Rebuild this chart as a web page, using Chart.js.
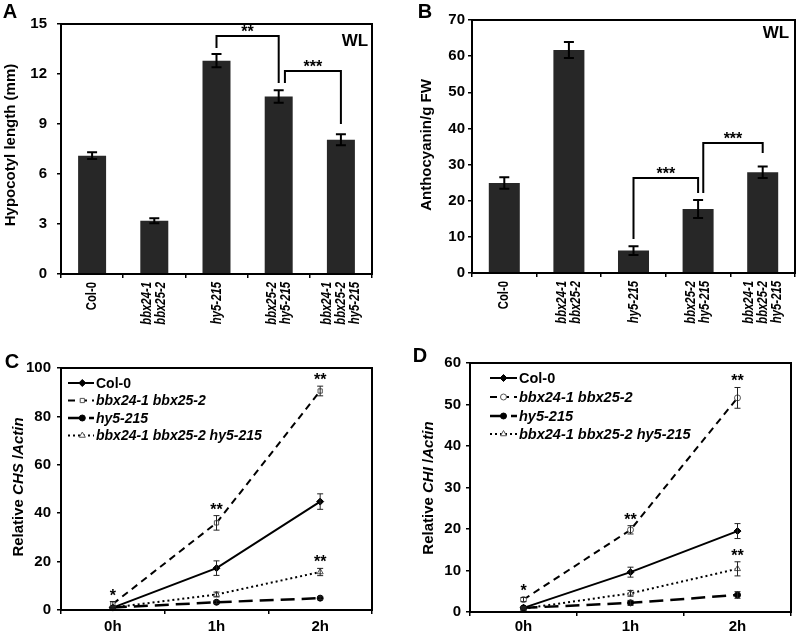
<!DOCTYPE html>
<html><head><meta charset="utf-8">
<script src="https://cdn.jsdelivr.net/npm/chart.js@4/dist/chart.umd.min.js"></script>
<style>
html,body{margin:0;padding:0;background:#fff;}
#wrap{position:relative;width:797px;height:635px;background:#fff;overflow:hidden;}
canvas{position:absolute;}
</style></head><body>
<div id="wrap">
<canvas id="cA" width="400" height="330" style="left:0px;top:0px;width:400px;height:330px"></canvas>
<canvas id="cB" width="397" height="330" style="left:400px;top:0px;width:397px;height:330px"></canvas>
<canvas id="cC" width="400" height="305" style="left:0px;top:330px;width:400px;height:305px"></canvas>
<canvas id="cD" width="397" height="305" style="left:400px;top:330px;width:397px;height:305px"></canvas>
</div>
<script>
// ---------------- DATA ----------------
const genotypes = [['Col-0'], ['bbx24-1', 'bbx25-2'], ['hy5-215'], ['bbx25-2', 'hy5-215'], ['bbx24-1', 'bbx25-2', 'hy5-215']];
const hypocotylLength = [7.1, 3.2, 12.8, 10.65, 8.05];
const hypocotylError  = [0.2, 0.15, 0.4, 0.37, 0.33];
const anthocyanin      = [24.9, 61.7, 6.2, 17.7, 27.9];
const anthocyaninError = [1.6, 2.2, 1.2, 2.5, 1.6];
// brackets: [fromCategory, toCategory, topValue, leftFootValue, rightFootValue, label]
const hypocotylBrackets   = [[2, 3, 14.28, 13.56, 11.46, '**'], [3.1, 4, 12.18, 11.46, 9.0, '***']];
const anthocyaninBrackets = [[2, 3, 26.3, 9.4, 22.1, '***'], [3.08, 4, 36.0, 22.1, 33.2, '***']];

const timePoints = ['0h', '1h', '2h'];
const seriesNames = ['Col-0', 'bbx24-1 bbx25-2', 'hy5-215', 'bbx24-1 bbx25-2 hy5-215'];
const chsCol0   = [1.0, 17.3, 44.8];  const chsCol0Err   = [0.5, 3.0, 3.2];
const chsDouble = [2.5, 36.0, 90.5];  const chsDoubleErr = [1.0, 3.0, 2.0];
const chsHy5    = [1.0, 3.2, 4.9];    const chsHy5Err    = [0.3, 0.6, 0.6];
const chsTriple = [1.0, 6.4, 15.7];   const chsTripleErr = [0.3, 1.0, 1.5];
const chiCol0   = [1.0, 9.6, 19.5];   const chiCol0Err   = [0.3, 1.2, 1.8];
const chiDouble = [3.0, 19.8, 51.6];  const chiDoubleErr = [0.5, 1.0, 2.5];
const chiHy5    = [1.0, 2.2, 4.1];    const chiHy5Err    = [0.2, 0.6, 0.8];
const chiTriple = [0.8, 4.5, 10.4];   const chiTripleErr = [0.3, 0.7, 1.7];
// significance stars: [seriesIndex, timeIndex, label]
const chsStars = [[1, 0, '*'], [1, 1, '**'], [1, 2, '**'], [3, 2, '**']];
const chiStars = [[1, 0, '*'], [1, 1, '**'], [1, 2, '**'], [3, 2, '**']];

// ---------------- HELPERS ----------------
const FF = '"Liberation Sans", Arial, Helvetica, sans-serif';
const fnt = (size, italic) => (italic ? 'italic ' : '') + 'bold ' + size + 'px ' + FF;

function richText(ctx, parts, cx, cy, size, rotate) {
  ctx.save();
  ctx.translate(cx, cy);
  if (rotate) ctx.rotate(-Math.PI / 2);
  let total = 0;
  const widths = parts.map(p => { ctx.font = fnt(size, p.i); const w = ctx.measureText(p.t).width; total += w; return w; });
  let x = -total / 2;
  ctx.textBaseline = 'middle'; ctx.textAlign = 'left'; ctx.fillStyle = '#000';
  parts.forEach((p, k) => { ctx.font = fnt(size, p.i); ctx.fillText(p.t, x, 0); x += widths[k]; });
  ctx.restore();
}

function drawErrors(chart, capHalf, lw, color) {
  const ctx = chart.ctx, ys = chart.scales.y;
  ctx.save();
  ctx.strokeStyle = color; ctx.lineWidth = lw; ctx.setLineDash([]);
  chart.data.datasets.forEach((ds, di) => {
    if (!ds.errors) return;
    const meta = chart.getDatasetMeta(di);
    meta.data.forEach((el, i) => {
      const v = ds.data[i], e = ds.errors[i];
      const x = el.x, yt = ys.getPixelForValue(v + e), yb = ys.getPixelForValue(v - e);
      ctx.beginPath();
      ctx.moveTo(x, yt); ctx.lineTo(x, yb);
      ctx.moveTo(x - capHalf, yt); ctx.lineTo(x + capHalf, yt);
      ctx.moveTo(x - capHalf, yb); ctx.lineTo(x + capHalf, yb);
      ctx.stroke();
    });
  });
  ctx.restore();
}

function panelPlugin(cfg) {
  return {
    id: 'panel_' + cfg.letter,
    afterDatasetsDraw(chart) {
      drawErrors(chart, cfg.capHalf, cfg.errLw, cfg.errColor);
    },
    afterDraw(chart) {
      const ctx = chart.ctx, a = chart.chartArea;
      const xs = chart.scales.x, ys = chart.scales.y;
      ctx.save();
      // frame
      ctx.strokeStyle = '#000'; ctx.lineWidth = 2; ctx.setLineDash([]);
      ctx.strokeRect(a.left, a.top, a.right - a.left, a.bottom - a.top);
      // panel letter
      ctx.fillStyle = '#000'; ctx.font = fnt(20); ctx.textAlign = 'center'; ctx.textBaseline = 'middle';
      ctx.fillText(cfg.letter, cfg.letterPos[0], cfg.letterPos[1]);
      // y title
      richText(ctx, cfg.yTitle, cfg.yTitlePos[0], cfg.yTitlePos[1], 15, true);
      // WL
      if (cfg.wl) {
        ctx.font = fnt(17); ctx.textAlign = 'center'; ctx.textBaseline = 'middle';
        ctx.fillText('WL', cfg.wl[0], cfg.wl[1]);
      }
      // rotated category labels
      if (cfg.catLabels) {
        const lh = 14;
        cfg.catLabels.forEach((lines, i) => {
          const px = xs.getPixelForValue(i), n = lines.length;
          lines.forEach((t, j) => {
            const lx = px + (j - (n - 1) / 2) * lh;
            ctx.save();
            ctx.translate(lx, a.bottom + 8);
            ctx.rotate(-Math.PI / 2);
            ctx.scale(0.78, 1);
            ctx.font = fnt(14.5, t !== 'Col-0');
            ctx.textAlign = 'right'; ctx.textBaseline = 'middle'; ctx.fillStyle = '#000';
            ctx.fillText(t, 0, 0);
            ctx.restore();
          });
        });
      }
      // brackets
      if (cfg.brackets) {
        cfg.brackets.forEach(b => {
          const x1 = xs.getPixelForValue(b[0]), x2 = xs.getPixelForValue(b[1]);
          const yt = ys.getPixelForValue(b[2]), yl = ys.getPixelForValue(b[3]), yr = ys.getPixelForValue(b[4]);
          ctx.strokeStyle = '#000'; ctx.lineWidth = 2;
          ctx.beginPath();
          ctx.moveTo(x1, yl); ctx.lineTo(x1, yt); ctx.lineTo(x2, yt); ctx.lineTo(x2, yr);
          ctx.stroke();
          ctx.font = fnt(16); ctx.textAlign = 'center'; ctx.textBaseline = 'alphabetic';
          ctx.fillText(b[5], (x1 + x2) / 2, yt + 1);
        });
      }
      // stars on line charts
      if (cfg.stars) {
        cfg.stars.forEach(s => {
          const ds = chart.data.datasets[s[0]];
          const el = chart.getDatasetMeta(s[0]).data[s[1]];
          const yt = ys.getPixelForValue(ds.data[s[1]] + ds.errors[s[1]]);
          ctx.font = fnt(16); ctx.textAlign = 'center'; ctx.textBaseline = 'alphabetic'; ctx.fillStyle = '#000';
          ctx.fillText(s[2], el.x, yt - 1);
        });
      }
      // legend
      if (cfg.legend) {
        const L = cfg.legend;
        chart.data.datasets.forEach((ds, i) => {
          const y = L.rows[i];
          ctx.save();
          ctx.strokeStyle = ds.borderColor; ctx.lineWidth = ds.borderWidth;
          ctx.setLineDash(ds.borderDash || []);
          ctx.beginPath(); ctx.moveTo(L.x0, y); ctx.lineTo(L.x1, y); ctx.stroke();
          ctx.setLineDash([]);
          ctx.fillStyle = ds.pointBackgroundColor; ctx.strokeStyle = ds.pointBorderColor; ctx.lineWidth = ds.pointBorderWidth;
          Chart.helpers.drawPoint(ctx, { pointStyle: ds.pointStyle, radius: ds.pointRadius, borderWidth: ds.pointBorderWidth, rotation: 0 },
            L.x0 + L.m * (L.x1 - L.x0), y);
          ctx.restore();
          ctx.font = fnt(L.size, ds.label !== 'Col-0'); ctx.textAlign = 'left'; ctx.textBaseline = 'middle'; ctx.fillStyle = '#000';
          ctx.fillText(ds.label, L.x1 + 2, y + 1);
        });
      }
      ctx.restore();
    }
  };
}

function yScale(max, step, pad, width) {
  return {
    min: 0, max: max,
    ticks: { stepSize: step, color: '#000', font: { family: FF, size: 15, weight: 'bold' }, padding: pad },
    grid: { display: true, drawOnChartArea: false, drawTicks: true, tickLength: 4, color: '#000', lineWidth: 1.5 },
    border: { display: false },
    title: { display: false },
    afterFit: s => { s.width = width; }
  };
}
function xScale(showTicks, pad, height) {
  return {
    type: 'category', offset: true,
    ticks: { display: showTicks, color: '#000', font: { family: FF, size: 15, weight: 'bold' }, padding: pad, maxRotation: 0, autoSkip: false },
    grid: { display: true, offset: true, drawOnChartArea: false, drawTicks: true, tickLength: 4, color: '#000', lineWidth: 1.5 },
    border: { display: false },
    afterFit: s => { s.height = height; }
  };
}
function baseOpts(pad, xs, ys) {
  return {
    responsive: false, animation: false, devicePixelRatio: 1,
    layout: { padding: { left: 0, top: pad.top, right: pad.right, bottom: 0 } },
    plugins: { legend: { display: false }, tooltip: { enabled: false } },
    scales: { x: xs, y: ys }
  };
}

// ---------------- PANEL A ----------------
new Chart(document.getElementById('cA'), {
  type: 'bar',
  data: {
    labels: genotypes.map(g => g.join(' ')),
    datasets: [{ data: hypocotylLength, errors: hypocotylError, backgroundColor: '#272727', borderWidth: 0,
      categoryPercentage: 1, barPercentage: 0.45 }]
  },
  options: baseOpts({ top: 24, right: 28 }, xScale(false, 0, 56), yScale(15, 3, 10, 61)),
  plugins: [panelPlugin({ letter: 'A', letterPos: [10, 12], capHalf: 5, errLw: 2, errColor: '#000',
    yTitle: [{ t: 'Hypocotyl length (mm)' }], yTitlePos: [11, 145], wl: [355, 41],
    catLabels: genotypes, brackets: hypocotylBrackets })]
});

// ---------------- PANEL B ----------------
new Chart(document.getElementById('cB'), {
  type: 'bar',
  data: {
    labels: genotypes.map(g => g.join(' ')),
    datasets: [{ data: anthocyanin, errors: anthocyaninError, backgroundColor: '#272727', borderWidth: 0,
      categoryPercentage: 1, barPercentage: 0.48 }]
  },
  options: baseOpts({ top: 20, right: 2 }, xScale(false, 0, 57), yScale(70, 10, 3, 72)),
  plugins: [panelPlugin({ letter: 'B', letterPos: [25, 12], capHalf: 5, errLw: 2, errColor: '#000',
    yTitle: [{ t: 'Anthocyanin/g FW' }], yTitlePos: [27, 145], wl: [376, 33],
    catLabels: genotypes, brackets: anthocyaninBrackets })]
});

// ---------------- LINE PANELS ----------------
function lineSets(vals, errs, openStyle2) {
  return [
    { label: seriesNames[0], data: vals[0], errors: errs[0], borderColor: '#000', borderWidth: 2, borderDash: [],
      pointStyle: 'rectRot', pointRadius: 3.5, pointBackgroundColor: '#000', pointBorderColor: '#000', pointBorderWidth: 1, fill: false, clip: false },
    { label: seriesNames[1], data: vals[1], errors: errs[1], borderColor: '#000', borderWidth: 2, borderDash: [7, 5],
      pointStyle: openStyle2, pointRadius: 3, pointBackgroundColor: '#fff', pointBorderColor: '#555', pointBorderWidth: 1, fill: false, clip: false },
    { label: seriesNames[2], data: vals[2], errors: errs[2], borderColor: '#000', borderWidth: 2.5, borderDash: [14, 7],
      pointStyle: 'circle', pointRadius: 3, pointBackgroundColor: '#000', pointBorderColor: '#000', pointBorderWidth: 1, fill: false, clip: false },
    { label: seriesNames[3], data: vals[3], errors: errs[3], borderColor: '#000', borderWidth: 2, borderDash: [2, 3],
      pointStyle: 'triangle', pointRadius: 3.5, pointBackgroundColor: '#fff', pointBorderColor: '#555', pointBorderWidth: 1, fill: false, clip: false }
  ];
}

new Chart(document.getElementById('cC'), {
  type: 'line',
  data: { labels: timePoints,
    datasets: lineSets([chsCol0, chsDouble, chsHy5, chsTriple], [chsCol0Err, chsDoubleErr, chsHy5Err, chsTripleErr], 'rect') },
  options: baseOpts({ top: 38, right: 28 }, xScale(true, 4, 25), yScale(100, 20, 6, 61)),
  plugins: [panelPlugin({ letter: 'C', letterPos: [12, 32], capHalf: 3, errLw: 1, errColor: '#222',
    yTitle: [{ t: 'Relative ' }, { t: 'CHS', i: true }, { t: ' /' }, { t: 'Actin', i: true }], yTitlePos: [19, 157],
    stars: chsStars, legend: { rows: [53, 70.5, 88, 105.5], x0: 68, x1: 94, m: 0.55, size: 14 } })]
});

new Chart(document.getElementById('cD'), {
  type: 'line',
  data: { labels: timePoints,
    datasets: lineSets([chiCol0, chiDouble, chiHy5, chiTriple], [chiCol0Err, chiDoubleErr, chiHy5Err, chiTripleErr], 'circle') },
  options: baseOpts({ top: 33, right: 6 }, xScale(true, 2, 23), yScale(60, 10, 5, 70)),
  plugins: [panelPlugin({ letter: 'D', letterPos: [20, 26], capHalf: 3, errLw: 1, errColor: '#222',
    yTitle: [{ t: 'Relative ' }, { t: 'CHI', i: true }, { t: ' /' }, { t: 'Actin', i: true }], yTitlePos: [29, 158],
    stars: chiStars, legend: { rows: [48, 67, 86, 104], x0: 90, x1: 117, m: 0.5, size: 14.5 } })]
});
</script>
</body></html>
